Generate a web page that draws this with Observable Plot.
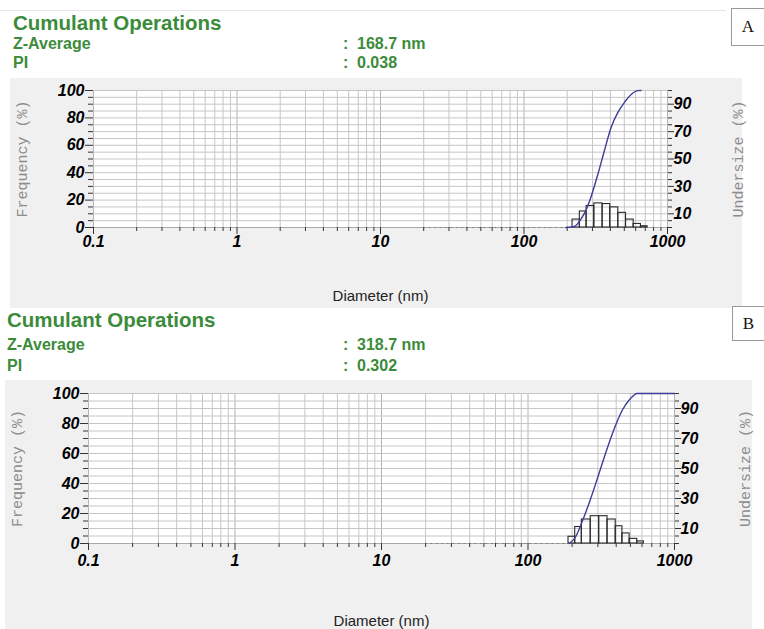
<!DOCTYPE html>
<html>
<head>
<meta charset="utf-8">
<script src="https://cdn.jsdelivr.net/npm/d3@7"></script>
<script src="https://cdn.jsdelivr.net/npm/@observablehq/plot@0.6"></script>
<style>
  html, body { margin: 0; padding: 0; background: #fff; }
  body { width: 764px; height: 629px; position: relative; overflow: hidden; font-family: "Liberation Sans", Arial, sans-serif; }
  .abs { position: absolute; white-space: nowrap; line-height: 1; }
  .title { color: #3c8b3a; font-weight: bold; font-size: 20.5px; }
  .row { color: #3c8b3a; font-weight: bold; font-size: 16px; }
  .box { position: absolute; border: 1px solid #9a9a9a; background: #fff; font-family: "Liberation Serif", "DejaVu Serif", serif; font-size: 17px; display: flex; align-items: center; justify-content: center; color: #111; }
  .panel { position: absolute; }
</style>
</head>
<body>
<div class="abs" style="left:0;top:10px;width:726px;height:1px;background:#e6e6e6"></div>

<div class="abs title" style="left:13px;top:12.6px">Cumulant Operations</div>
<div class="abs row" style="left:13px;top:35.8px">Z-Average</div>
<div class="abs row" style="left:13px;top:54.8px">PI</div>
<div class="abs row" style="left:343px;top:35.8px">:</div>
<div class="abs row" style="left:357px;top:35.8px" id="zA"></div>
<div class="abs row" style="left:343px;top:54.8px">:</div>
<div class="abs row" style="left:357px;top:54.8px" id="piA"></div>
<div class="box" style="left:731px;top:8px;width:32px;height:36px">A</div>

<div class="abs title" style="left:7px;top:309.6px">Cumulant Operations</div>
<div class="abs row" style="left:7px;top:336.5px">Z-Average</div>
<div class="abs row" style="left:7px;top:358px">PI</div>
<div class="abs row" style="left:343px;top:336.5px">:</div>
<div class="abs row" style="left:357px;top:336.5px" id="zB"></div>
<div class="abs row" style="left:343px;top:358px">:</div>
<div class="abs row" style="left:357px;top:358px" id="piB"></div>

<div class="panel" id="panelA" style="left:10px;top:78px"></div>
<div class="panel" id="panelB" style="left:5px;top:380px"></div>
<div class="box" style="left:732px;top:306px;width:31px;height:33px">B</div>

<script>
// ---- tick labels / axis values ----
const sizeMajorTicks = [0.1, 1, 10, 100, 1000];
const sizeMinorTicks = [0.2,0.3,0.4,0.5,0.6,0.7,0.8,0.9, 2,3,4,5,6,7,8,9, 20,30,40,50,60,70,80,90, 200,300,400,500,600,700,800,900];
const freqTicks = [0, 20, 40, 60, 80, 100];
const freqMinorTicks = [5,10,15,25,30,35,45,50,55,65,70,75,85,90,95];
const undersizeTicks = [10, 30, 50, 70, 90];
const undersizeMinorTicks = [0,5,15,20,25,35,40,45,55,60,65,75,80,85,95,100];
const gridY = [5,10,15,20,25,30,35,40,45,50,55,60,65,70,75,80,85,90,95,100];

// ---- panel A data ----
const zAverageA = "168.7 nm";
const piA = "0.038";
const binEdgesA = [196, 218, 245, 273, 309, 353, 399, 454, 514, 581, 653, 727];
const frequencyA = [0, 5.8, 11.7, 15.7, 17.6, 17.1, 14.7, 10.7, 5.8, 2.6, 0.9];
const undersizeSizesA = [196, 224, 250, 270, 293, 326, 362, 404, 450, 500, 556, 620, 653];
const undersizeA = [0, 0.7, 6.3, 12.5, 22.3, 38.3, 55.5, 72.8, 83.8, 91.2, 96.9, 99.9, 100];

// ---- panel B data ----
const zAverageB = "318.7 nm";
const piB = "0.302";
const binEdgesB = [189, 210, 233, 268, 306, 349, 397, 441, 494, 557, 618];
const frequencyB = [4.5, 11, 16, 18.2, 18.2, 16, 11.5, 6.7, 3.1, 1.4];
const undersizeSizesB = [191, 210, 233, 268, 306, 349, 397, 441, 494, 557, 1000];
const undersizeB = [0, 4, 14, 30, 47, 64, 79, 89, 96, 100, 100];

document.getElementById("zA").textContent = zAverageA;
document.getElementById("piA").textContent = piA;
document.getElementById("zB").textContent = zAverageB;
document.getElementById("piB").textContent = piB;

function panel(cfg) {
  const bins = cfg.freq.map((f, i) => ({x1: cfg.edges[i], x2: cfg.edges[i + 1], y: f}));
  const curve = cfg.uSizes.map((s, i) => ({x: s, y: cfg.u[i]}));
  const tickFont = {fontSize: 16, fontWeight: "bold", fontStyle: "italic", fill: "#000", label: null};
  return Plot.plot({
    width: cfg.width,
    height: cfg.height,
    marginLeft: cfg.ml,
    marginRight: cfg.mr,
    marginTop: cfg.mt,
    marginBottom: cfg.mb,
    style: {background: "#f0f0f0", fontFamily: "Liberation Sans, Arial, sans-serif", overflow: "visible"},
    x: {type: "log", domain: [0.1, 1000]},
    y: {domain: [0, 100]},
    marks: [
      Plot.frame({fill: "white", stroke: "none"}),
      Plot.ruleX(sizeMinorTicks, {stroke: "#c6c6c6", strokeWidth: 1}),
      Plot.ruleX(sizeMajorTicks, {stroke: "#b4b4b4", strokeWidth: 1}),
      Plot.ruleY(gridY, {stroke: "#c6c6c6", strokeWidth: 1}),
      Plot.ruleY([0], {stroke: "#aaaaaa", strokeWidth: 1}),
      Plot.ruleY([0], {x1: 20, x2: cfg.edges[0], stroke: "#777", strokeDasharray: "1.5,4"}),
      Plot.rect(bins, {x1: "x1", x2: "x2", y1: 0, y2: "y", fill: "none", stroke: "#2a2a2a", strokeWidth: 1.1}),
      Plot.line(curve, {x: "x", y: "y", stroke: "#3d3d99", strokeWidth: 1.4, curve: "monotone-x"}),
      // left axis
      Plot.axisY(freqMinorTicks, {anchor: "left", tickSize: 5, tickFormat: () => "", stroke: "#333", label: null}),
      Plot.axisY(freqTicks, {anchor: "left", tickSize: 8, tickPadding: 1, tickFormat: d => String(d), ...tickFont, stroke: "#333"}),
      // right axis
      Plot.axisY(undersizeMinorTicks, {anchor: "right", tickSize: 4, tickFormat: () => "", stroke: "#333", label: null}),
      Plot.axisY(undersizeTicks, {anchor: "right", tickSize: 6, tickPadding: 0, tickFormat: d => String(d), ...tickFont, stroke: "#333"}),
      // bottom axis
      Plot.axisX(sizeMinorTicks, {anchor: "bottom", tickSize: 4, tickFormat: () => "", stroke: "#333", label: null}),
      Plot.axisX(sizeMajorTicks, {anchor: "bottom", tickSize: 7, tickPadding: cfg.xPad, tickFormat: d => String(d), ...tickFont, stroke: "#333"}),
      // axis titles
      Plot.text(["Frequency (%)"], {frameAnchor: "left", textAnchor: "middle", dx: -71, rotate: -90, fontFamily: "Liberation Mono, monospace", fontSize: 15, fill: "#8c8c8c"}),
      Plot.text(["Undersize (%)"], {frameAnchor: "right", textAnchor: "middle", dx: cfg.udx, rotate: -90, fontFamily: "Liberation Mono, monospace", fontSize: 15, fill: "#8c8c8c"}),
      Plot.text(["Diameter (nm)"], {frameAnchor: "bottom", dy: cfg.ddy, fontSize: 15, fill: "#222"})
    ]
  });
}

document.getElementById("panelA").appendChild(panel({
  width: 732, height: 230, ml: 83, mr: 75, mt: 12, mb: 81,
  edges: binEdgesA, freq: frequencyA, uSizes: undersizeSizesA, u: undersizeA,
  xPad: 1, udx: 71, ddy: 73
}));
document.getElementById("panelB").appendChild(panel({
  width: 747, height: 249, ml: 83, mr: 78, mt: 13, mb: 86,
  edges: binEdgesB, freq: frequencyB, uSizes: undersizeSizesB, u: undersizeB,
  xPad: 4, udx: 71, ddy: 82
}));
</script>
</body>
</html>
